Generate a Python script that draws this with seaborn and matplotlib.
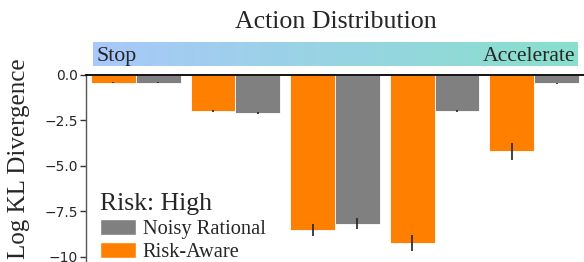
import numpy as np
import pandas as pd
import matplotlib
matplotlib.use("Agg")
import matplotlib.pyplot as plt
import seaborn as sns
from matplotlib.patches import Patch

# ---- data ----
actions = ["Stop", "Brake", "Coast", "Cruise", "Accelerate"]
agents = ["Risk-Aware", "Noisy Rational"]
risk_aware_kl = [-0.45, -1.98, -8.52, -9.24, -4.21]
risk_aware_err = [0.03, 0.05, 0.33, 0.45, 0.48]
noisy_rational_kl = [-0.45, -2.12, -8.18, -2.00, -0.47]
noisy_rational_err = [0.03, 0.05, 0.28, 0.07, 0.03]
yticks = [0.0, -2.5, -5.0, -7.5, -10.0]
ytick_labels = ["0.0", "\u22122.5", "\u22125.0", "\u22127.5", "\u221210"]

df = pd.DataFrame({
    "action": actions * 2,
    "agent": [agents[0]] * len(actions) + [agents[1]] * len(actions),
    "kl": risk_aware_kl + noisy_rational_kl,
    "err": risk_aware_err + noisy_rational_err,
})

palette = {"Risk-Aware": "#ff8000", "Noisy Rational": "#808080"}
serif = ["Liberation Serif", "DejaVu Serif"]

sns.set_style("white")
plt.rcParams["font.family"] = ["DejaVu Sans"]

W, H = 584, 262
fig = plt.figure(figsize=(W / 100, H / 100), dpi=100)
ax = fig.add_axes([86 / W, 0.0, 1 - 86 / W, 1 - 74.7 / H])

sns.barplot(data=df, x="action", y="kl", hue="agent", order=actions,
            hue_order=agents, palette=palette, width=0.9, errorbar=None,
            saturation=1, edgecolor="white", linewidth=0.6, legend=False, ax=ax)

for cont, agent in zip(ax.containers, agents):
    sub = df[df["agent"] == agent].set_index("action").loc[actions]
    for bar, err in zip(cont, sub["err"]):
        xc = bar.get_x() + bar.get_width() / 2
        ax.errorbar(xc, bar.get_height(), yerr=err, color="#222222",
                    lw=1.4, alpha=0.85, capsize=0)

ax.set_xlim(-0.5, 4.5)
ax.set_ylim(-10.29, 0)
ax.set_yticks(yticks)
ax.set_yticklabels(ytick_labels, fontsize=10)
ax.set_xticks([])
ax.set_xlabel("")
ax.set_ylabel("Log KL Divergence", fontsize=18, family=serif)
ax.yaxis.set_label_coords((30 - 86) / 498, (H - 159) / (H - 74.7))
ax.tick_params(axis="y", length=4, width=1, color="#333333", pad=2, left=True)
for s in ["right", "bottom"]:
    ax.spines[s].set_visible(False)
ax.spines["left"].set_color("#555555")
ax.spines["left"].set_linewidth(1.0)
ax.spines["top"].set_color("black")
ax.spines["top"].set_linewidth(1.3)

# legend
handles = [Patch(facecolor=palette["Noisy Rational"]), Patch(facecolor=palette["Risk-Aware"])]
leg = ax.legend(handles, ["Noisy Rational", "Risk-Aware"], title="Risk: High",
                loc="lower left", bbox_to_anchor=(14 / 498, 0.0), frameon=False,
                prop={"family": serif, "size": 14.7}, handlelength=1.75,
                handleheight=0.85, labelspacing=0.15, handletextpad=0.35,
                borderpad=0.0, borderaxespad=0.0, alignment="left")
leg.get_title().set_fontfamily(serif)
leg.get_title().set_fontsize(18.5)

# gradient bar
gax = fig.add_axes([93 / W, 1 - 66 / H, 485 / W, 24 / H])
c0 = np.array([168, 200, 250]) / 255
c1 = np.array([136, 224, 204]) / 255
t = np.linspace(0, 1, 256)[:, None]
grad = (c0 * (1 - t) + c1 * t)[None, :, :]
gax.imshow(grad, aspect="auto", extent=[0, 1, 0, 1])
gax.set_axis_off()
fig.text(97 / W, 1 - 61 / H, "Stop", ha="left", va="baseline", fontsize=15.8,
         family=serif)
fig.text(575 / W, 1 - 61 / H, "Accelerate", ha="right", va="baseline",
         fontsize=15.6, family=serif)

fig.text(336 / W, 1 - 28 / H, "Action Distribution", ha="center", va="baseline",
         fontsize=18.6, family=serif)

fig.savefig("out.png", dpi=100)
